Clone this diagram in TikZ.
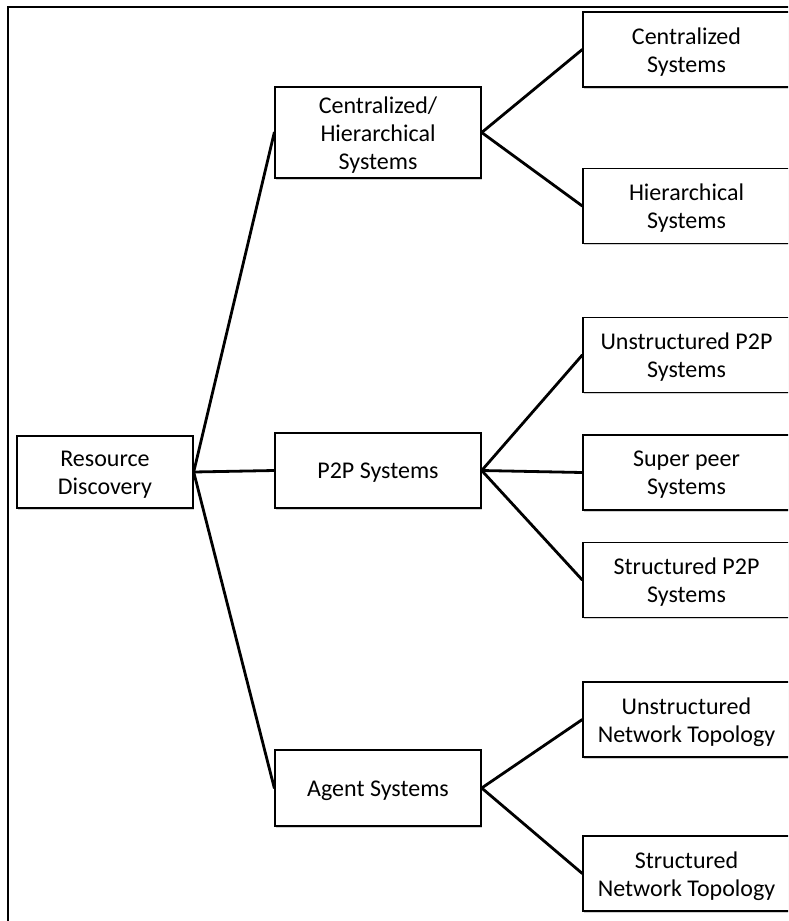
\documentclass[tikz,border=0pt]{standalone}
\usepackage{fontspec}
\setmainfont{Carlito}
\usetikzlibrary{shadows}
\begin{document}
\begin{tikzpicture}[x=1pt,y=-1pt,
  box/.style={draw, line width=1.4pt, rectangle, inner sep=0pt, fill=white,
    drop shadow={shadow xshift=1pt, shadow yshift=-1.5pt, fill=black!30, opacity=0.6},
    label={[font=\fontsize{24}{28}\selectfont, align=center, inner sep=0pt, yshift=-2.5pt]center:#1}},
  midbox/.style={box=#1, minimum width=206pt},
  rightbox/.style={box=#1, minimum width=207pt, minimum height=75pt},
  link/.style={line width=2.8pt, line cap=round}]
\useasboundingbox (0,0) rectangle (788,921);
\begin{scope}
\clip (0,0) rectangle (788,921);
\fill[white] (0,0) rectangle (788,921);
\draw[line width=2pt] (830,7) -- (8,7) -- (8,960);

\node[box={Resource\\Discovery}, minimum width=176pt, minimum height=72pt] (rd) at (105,472) {};

\node[midbox={Centralized/\\Hierarchical\\Systems}, minimum height=91pt] (ch) at (378,132.5) {};
\node[midbox={P2P Systems}, minimum height=75pt] (p2p) at (378,470.5) {};
\node[midbox={Agent Systems}, minimum height=76pt] (ag) at (378,788) {};

\node[rightbox={Centralized\\Systems}] (cs) at (686.5,49.5) {};
\node[rightbox={Hierarchical\\Systems}] (hs) at (686.5,206) {};
\node[rightbox={Unstructured P2P\\Systems}] (up) at (686.5,355) {};
\node[rightbox={Super peer\\Systems}] (sp) at (686.5,472.5) {};
\node[rightbox={Structured P2P\\Systems}] (st) at (686.5,580) {};
\node[rightbox={Unstructured\\Network Topology}] (un) at (686.5,719.5) {};
\node[rightbox={Structured\\Network Topology}] (sn) at (686.5,873.5) {};

\draw[link] (rd.east) -- (ch.west);
\draw[link] (rd.east) -- (p2p.west);
\draw[link] (rd.east) -- (ag.west);
\draw[link] (ch.east) -- (cs.west);
\draw[link] (ch.east) -- (hs.west);
\draw[link] (p2p.east) -- (up.west);
\draw[link] (p2p.east) -- (sp.west);
\draw[link] (p2p.east) -- (st.west);
\draw[link] (ag.east) -- (un.west);
\draw[link] (ag.east) -- (sn.west);
\end{scope}
\end{tikzpicture}
\end{document}
